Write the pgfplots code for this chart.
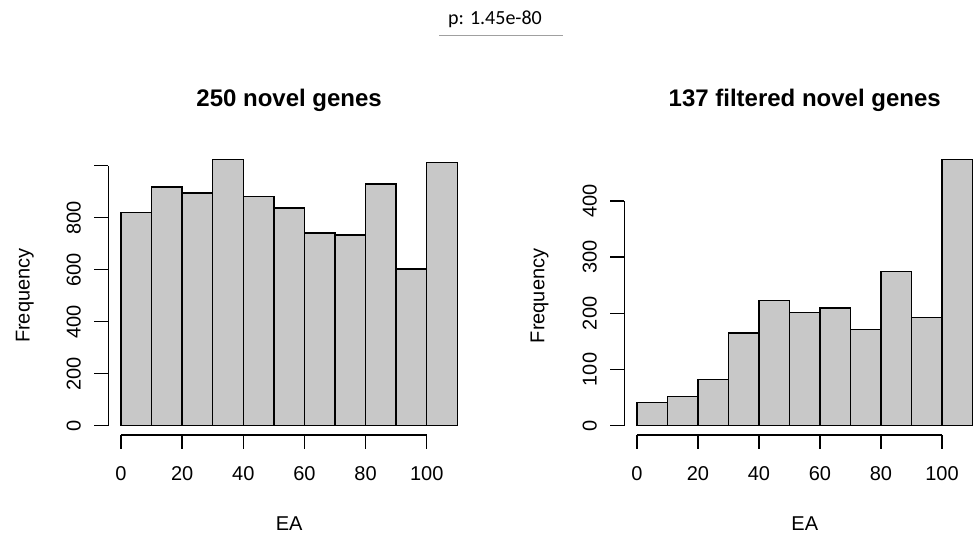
\documentclass[border=0pt]{standalone}
\usepackage{fontspec}
\setmainfont{Liberation Sans}
\newfontfamily\pfont{Carlito}
\usepackage{pgfplots}
\pgfplotsset{compat=1.18}
\definecolor{barfill}{RGB}{200,200,200}
\definecolor{rule}{RGB}{160,160,160}
\pgfplotsset{
  rhist/.style={
    anchor=south west,
    clip=false,
    axis x line*=bottom,
    axis y line*=left,
    axis line style={draw=none},
    tick align=outside,
    major tick length=7pt,
    tick style={black, line width=0.7pt},
    /pgf/number format/assume math mode=true,
    ticklabel style={font=\fontsize{10}{12}\selectfont},
    label style={font=\fontsize{10}{12}\selectfont},
    xtick={0,20,40,60,80,100},
    xticklabel style={inner ysep=8.8pt},
    yticklabel style={rotate=90, anchor=south, inner ysep=6.6pt},
    every axis title shift=0pt,
    title style={anchor=base, font=\fontsize{12}{14}\selectfont\bfseries},
    xlabel={EA},
    ylabel={Frequency},
  },
  rbar/.style={ybar, bar width=10, bar shift=0pt, fill=barfill, draw=black, line width=0.7pt},
}
\begin{document}
\begin{tikzpicture}
\useasboundingbox (0,0) rectangle (486.5pt,266.5pt);
\clip (0,0) rectangle (486.5pt,266.5pt);

% p-value header
\node[font=\pfont\fontsize{10}{12}\selectfont, anchor=base, inner sep=0pt] at (247.5pt,254pt) {p: 1.45e-80};
\draw[rule, line width=0.7pt] (219.65pt,248.85pt) -- (281.35pt,248.85pt);

% Left histogram
\begin{axis}[rhist,
  at={(54.15pt,49pt)},
  x=1.52865pt, y=0.13pt,
  xmin=-4.15, xmax=115, ymin=-35.8, ymax=1060,
  ytick={0,200,400,600,800,1000},
  yticklabels={0,200,400,600,800,{}},
  title={250 novel genes},
  title style={at={(axis cs:55,1227)}},
  xlabel style={at={(axis cs:55,-405)}, anchor=base},
  ylabel style={at={(axis cs:-29.9,500)}, anchor=base},
]
\addplot[rbar] coordinates {
(5,820) (15,918) (25,895) (35,1024) (45,881) (55,837)
(65,741) (75,733) (85,929) (95,603) (105,1013)
};
\draw[line width=0.7pt] (axis cs:0,-35.8) -- (axis cs:100,-35.8);
\draw[line width=0.7pt] (axis cs:-4.15,0) -- (axis cs:-4.15,1000);
\end{axis}

% Right histogram
\begin{axis}[rhist,
  at={(312.15pt,49pt)},
  x=1.525pt, y=0.2809pt,
  xmin=-4.16, xmax=112, ymin=-16.55, ymax=480,
  ytick={0,100,200,300,400},
  title={137 filtered novel genes},
  title style={at={(axis cs:55,567.8)}},
  xlabel style={at={(axis cs:55,-187.4)}, anchor=base},
  ylabel style={at={(axis cs:-30.4,231)}, anchor=base},
]
\addplot[rbar] coordinates {
(5,41.5) (15,52) (25,82.5) (35,165) (45,223) (55,201)
(65,209.5) (75,171.5) (85,274) (95,193) (105,474)
};
\draw[line width=0.7pt] (axis cs:0,-16.55) -- (axis cs:100,-16.55);
\draw[line width=0.7pt] (axis cs:-4.16,0) -- (axis cs:-4.16,400);
\end{axis}
\end{tikzpicture}
\end{document}
